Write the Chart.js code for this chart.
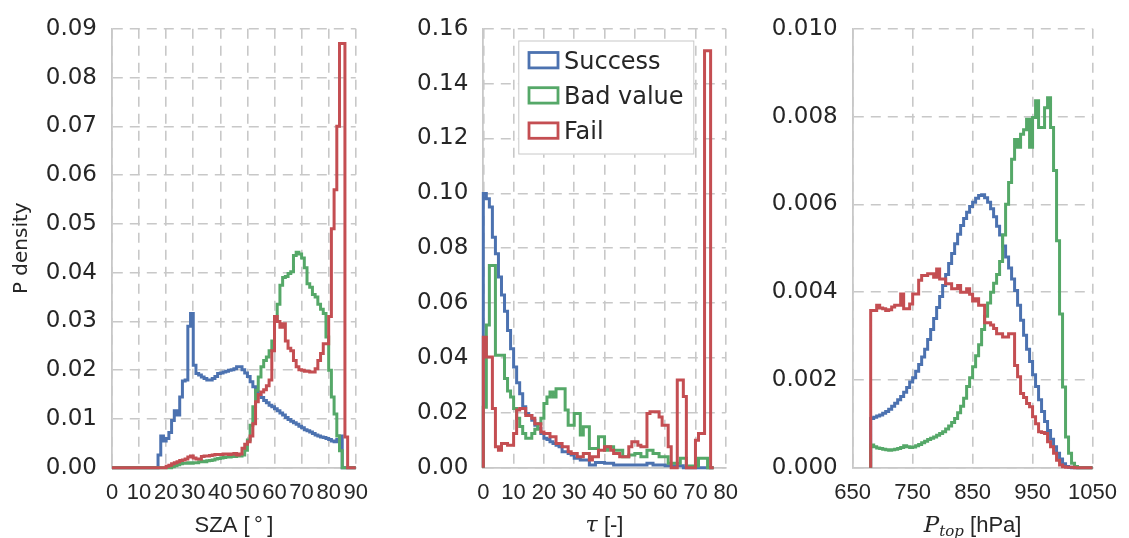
<!DOCTYPE html>
<html>
<head>
<meta charset="utf-8">
<script src="https://cdn.jsdelivr.net/npm/chart.js@4.4.0/dist/chart.umd.min.js"></script>
<style>
  html, body { margin: 0; padding: 0; background: #fff; }
  #wrap { position: relative; width: 1129px; height: 538px; }
  canvas { position: absolute; top: 0; }
</style>
</head>
<body>
<div id="wrap">
  <canvas id="sza_chart" width="380" height="538" style="left:0px"></canvas>
  <canvas id="tau_chart" width="370" height="538" style="left:380px"></canvas>
  <canvas id="ptop_chart" width="379" height="538" style="left:750px"></canvas>
</div>
<script>
const serieNomes = ["Success", "Bad value", "Fail"];
const serieCores = ["#4c72b0", "#55a868", "#c44e52"];

// SZA: bins de 1 grau a partir de 0
const szaInicio = 0;
const szaLargura = 1;
const szaTicks = [0, 90, 10];
const szaSuccess = [
  0, 0, 0, 0, 0, 0, 0, 0, 0, 0,
  0, 0, 0, 0, 0, 0, 0, 0.0026, 0.0065, 0.0055,
  0.006, 0.0072, 0.0097, 0.0117, 0.0108, 0.0145, 0.0178, 0.018, 0.029, 0.0316,
  0.021, 0.0193, 0.019, 0.0186, 0.0183, 0.018, 0.018, 0.0183, 0.0187, 0.0193,
  0.0194, 0.0196, 0.0198, 0.02, 0.0201, 0.0203, 0.0207, 0.0207, 0.0201, 0.0194,
  0.0187, 0.0176, 0.0166, 0.0155, 0.0149, 0.0144, 0.0138, 0.0133, 0.0128, 0.0125,
  0.0121, 0.0117, 0.0112, 0.0108, 0.0103, 0.0099, 0.0095, 0.0092, 0.0089, 0.0085,
  0.0082, 0.0078, 0.0076, 0.0073, 0.007, 0.0067, 0.0065, 0.0063, 0.0062, 0.006,
  0.0058, 0.0055, 0.0053, 0.0058, 0.0065, 0, 0, 0, 0, 0
];
const szaBad = [
  0, 0, 0, 0, 0, 0, 0, 0, 0, 0,
  0, 0, 0, 0, 0, 0, 0, 0, 0, 0,
  0, 0, 0.0002, 0.0004, 0.0006, 0.0008, 0.0009, 0.0009, 0.001, 0.0009,
  0.001, 0.001, 0.0012, 0.0013, 0.0012, 0.0014, 0.0015, 0.0016, 0.0018, 0.0019,
  0.002, 0.0021, 0.0022, 0.0022, 0.0023, 0.0023, 0.0024, 0.0024, 0.0026, 0.0036,
  0.0057, 0.0087, 0.0125, 0.0159, 0.0186, 0.0207, 0.022, 0.0227, 0.024, 0.026,
  0.0305, 0.0335, 0.0374, 0.039, 0.0392, 0.0398, 0.0402, 0.0435, 0.0442, 0.0438,
  0.043, 0.041, 0.0377, 0.037, 0.0355, 0.035, 0.0335, 0.0325, 0.0316, 0.0268,
  0.02, 0.0145, 0.011, 0.0065, 0.0035, 0, 0, 0, 0, 0
];
const szaFail = [
  0, 0, 0, 0, 0, 0, 0, 0, 0, 0,
  0, 0, 0, 0, 0, 0, 0, 0, 0, 0,
  0.0003, 0.0005, 0.0008, 0.001, 0.0012, 0.0015, 0.0016, 0.0018, 0.0022, 0.0024,
  0.002, 0.0018, 0.0018, 0.0023, 0.0024, 0.0024, 0.0025, 0.0026, 0.0027, 0.0027,
  0.0027, 0.0028, 0.0028, 0.0027, 0.0028, 0.0029, 0.0026, 0.0028, 0.004, 0.0048,
  0.0053, 0.0065, 0.009, 0.0135, 0.015, 0.0155, 0.016, 0.0168, 0.018, 0.024,
  0.031, 0.03, 0.0288, 0.0295, 0.026, 0.0245, 0.024, 0.022, 0.0207, 0.0201,
  0.02, 0.0198, 0.0198, 0.0196, 0.0196, 0.0203, 0.022, 0.0234, 0.0254, 0.0254,
  0.031, 0.049, 0.057, 0.07, 0.087, 0.087, 0.0063, 0, 0, 0
];

// tau: bins de 1 a partir de 0
const tauInicio = 0;
const tauLargura = 1;
const tauTicks = [0, 80, 10];
const tauSuccess = [
  0.1, 0.098, 0.095, 0.084, 0.078, 0.0695, 0.063, 0.057, 0.05, 0.0434,
  0.0367, 0.031, 0.027, 0.0222, 0.0198, 0.019, 0.0173, 0.0155, 0.0143, 0.0125,
  0.0107, 0.0103, 0.0095, 0.0088, 0.0082, 0.0076, 0.0058, 0.0058, 0.0052, 0.0046,
  0.0034, 0.0034, 0.0028, 0.0028, 0.0028, 0.001, 0.001, 0.0019, 0.0019, 0.0019,
  0.0016, 0.0016, 0.0016, 0.001, 0.001, 0.001, 0.001, 0.001, 0.001, 0.001,
  0.001, 0.001, 0.001, 0.001, 0.0016, 0.0016, 0.001, 0.001, 0.001, 0.001,
  0.0007, 0.0007, 0.0007, 0.0007, 0.0007, 0.0007, 0, 0, 0, 0,
  0, 0, 0, 0, 0, 0
];
const tauBad = [
  0.022, 0.052, 0.0737, 0.0737, 0.041, 0.041, 0.041, 0.0325, 0.028, 0.0258,
  0.0216, 0.018, 0.015, 0.0125, 0.0107, 0.0107, 0.0125, 0.014, 0.016, 0.018,
  0.0234, 0.0258, 0.0276, 0.0258, 0.0288, 0.0288, 0.0288, 0.021, 0.0155, 0.0155,
  0.0198, 0.0198, 0.0119, 0.0149, 0.0149, 0.007, 0.007, 0.007, 0.0113, 0.0113,
  0.0064, 0.0076, 0.0076, 0.0064, 0.0064, 0.0064, 0.004, 0.004, 0.0046, 0.0046,
  0.0052, 0.0052, 0.004, 0.004, 0.0064, 0.0064, 0.0052, 0.0052, 0.004, 0.004,
  0.004, 0.0016, 0.0016, 0.0016, 0.0016, 0.0034, 0.0034, 0.0006, 0.0006, 0.0006,
  0.0006, 0.0034, 0.0034, 0.0034, 0, 0
];
const tauFail = [
  0.0476, 0.0404, 0.0404, 0.0216, 0.0076, 0.0064, 0.0088, 0.0088, 0.0082, 0.0082,
  0.0125, 0.021, 0.0216, 0.0216, 0.019, 0.019, 0.018, 0.016, 0.016, 0.013,
  0.0125, 0.0125, 0.0113, 0.0113, 0.0088, 0.0088, 0.0076, 0.0076, 0.0058, 0.0052,
  0.0052, 0.004, 0.004, 0.0052, 0.0052, 0.0028, 0.004, 0.004, 0.0064, 0.0064,
  0.0076, 0.0076, 0.0064, 0.0052, 0.0052, 0.004, 0.004, 0.004, 0.0076, 0.0095,
  0.0095, 0.0082, 0.0076, 0.0076, 0.0198, 0.0204, 0.0204, 0.0204, 0.0185, 0.0155,
  0.0155, 0.0076, 0, 0, 0.032, 0.032, 0.026, 0, 0, 0,
  0.01, 0.0125, 0.0125, 0.152, 0.152, 0
];

// P_top: bins de 5 hPa a partir de 680
const ptopInicio = 680;
const ptopLargura = 5;
const ptopTicks = [650, 1050, 100];
const ptopSuccess = [
  0.00112, 0.00115, 0.00118, 0.0012, 0.00124, 0.00128, 0.00133, 0.0014, 0.00147, 0.00155,
  0.00162, 0.00172, 0.00183, 0.00195, 0.00205, 0.0022, 0.00235, 0.00252, 0.0027, 0.00292,
  0.00315, 0.0034, 0.00365, 0.0039, 0.00415, 0.0044, 0.00465, 0.00488, 0.0051, 0.00532,
  0.00552, 0.00568, 0.00582, 0.00595, 0.00605, 0.00614, 0.0062, 0.00622, 0.00615, 0.00605,
  0.0059, 0.00572, 0.0055, 0.0053, 0.00505, 0.0048, 0.00455, 0.0043, 0.00404, 0.0037,
  0.00336, 0.00302, 0.0027, 0.00242, 0.00212, 0.00185, 0.00155, 0.00128, 0.00105, 0.00085,
  0.00065, 0.00048, 0.00033, 0.0002, 0.00009, 0.00003, 0.00001, 0, 0, 0,
  0, 0, 0, 0
];
const ptopBad = [
  0.00052, 0.00048, 0.00045, 0.00044, 0.00042, 0.00041, 0.0004, 0.00041, 0.00042, 0.00044,
  0.00046, 0.0005, 0.00048, 0.00046, 0.00047, 0.0005, 0.00053, 0.00057, 0.0006, 0.00064,
  0.00067, 0.0007, 0.00074, 0.00078, 0.00082, 0.00088, 0.00095, 0.00103, 0.00112, 0.00125,
  0.0014, 0.00158, 0.00185, 0.00205, 0.0023, 0.00255, 0.0028, 0.00315, 0.00345, 0.00375,
  0.004, 0.0042, 0.0044, 0.0047, 0.0053, 0.006, 0.0065, 0.00703, 0.00748, 0.0073,
  0.0076, 0.0077, 0.00794, 0.0073, 0.00798, 0.00836, 0.00775, 0.00775, 0.0082, 0.00843,
  0.00775, 0.00677, 0.00517, 0.0035, 0.00184, 0.0007, 0.00033, 0.0001, 0.00003, 0,
  0, 0, 0, 0
];
const ptopFail = [
  0.00358, 0.00358, 0.0037, 0.00364, 0.00362, 0.00358, 0.0036, 0.00366, 0.0037, 0.0037,
  0.00396, 0.00362, 0.00362, 0.00373, 0.00396, 0.00396, 0.00427, 0.00438, 0.00438, 0.00442,
  0.00442, 0.00434, 0.00453, 0.0043, 0.0043, 0.00419, 0.00419, 0.00408, 0.00408, 0.00415,
  0.004, 0.004, 0.00408, 0.00395, 0.0038, 0.00385, 0.0037, 0.0037, 0.0033, 0.0033,
  0.00325, 0.00317, 0.00305, 0.00305, 0.00298, 0.00298, 0.00305, 0.00305, 0.00233, 0.00207,
  0.00169, 0.0016, 0.00146, 0.00139, 0.00116, 0.001, 0.00082, 0.0008, 0.00078, 0.00059,
  0.00048, 0.00033, 0.00017, 0.00006, 0.00002, 0.00001, 0.00001, 0.00001, 0, 0,
  0, 0, 0, 0
];

const corTexto = "#262626";
const corGrade = "#c8c8c8";
const fonteSans = '"Liberation Sans", Arial, sans-serif';
const fonteDejavu = '"DejaVu Sans", sans-serif';

// contorno de histograma (histtype step)
function degraus(inicio, largura, valores) {
  let pontos = [{ x: inicio, y: 0 }];
  for (let i = 0; i < valores.length; i++) {
    let x0 = inicio + i * largura;
    pontos.push({ x: x0, y: valores[i] });
    pontos.push({ x: x0 + largura, y: valores[i] });
  }
  pontos.push({ x: inicio + valores.length * largura, y: 0 });
  return pontos;
}

function criarTitulo(partes) {
  return {
    id: "tituloX",
    afterDraw(chart) {
      const ctx = chart.ctx;
      const area = chart.chartArea;
      let larguras = [];
      let total = 0;
      for (const p of partes) {
        ctx.font = p.font;
        let w = ctx.measureText(p.texto).width;
        larguras.push(w);
        total += w;
      }
      let x = (area.left + area.right) / 2 - total / 2;
      ctx.save();
      ctx.fillStyle = corTexto;
      ctx.textBaseline = "alphabetic";
      ctx.textAlign = "left";
      partes.forEach((p, i) => {
        ctx.font = p.font;
        ctx.fillText(p.texto, x, 532 + (p.desce || 0));
        x += larguras[i];
      });
      ctx.restore();
    },
  };
}

const legendaCaixa = {
  id: "legendaCaixa",
  afterDraw(chart) {
    const ctx = chart.ctx;
    const area = chart.chartArea;
    const x0 = area.left + 35;
    const y0 = area.top + 11.7;
    ctx.save();
    ctx.fillStyle = "#ffffff";
    ctx.fillRect(x0, y0, 175.7, 114);
    ctx.strokeStyle = corGrade;
    ctx.lineWidth = 1;
    ctx.strokeRect(x0 + 0.5, y0 + 0.5, 175, 113);
    chart.data.datasets.forEach((ds, i) => {
      const cy = y0 + 19.6 + i * 35.2;
      ctx.strokeStyle = ds.borderColor;
      ctx.lineWidth = 2.8;
      ctx.strokeRect(x0 + 10.7, cy - 7.6, 29, 15.4);
      ctx.fillStyle = corTexto;
      ctx.font = "24px " + fonteDejavu;
      ctx.textBaseline = "alphabetic";
      ctx.fillText(ds.label, x0 + 45.7, cy + 8.7);
    });
    ctx.restore();
  },
};

function plotarPainel(id, cfg) {
  var ctx = document.getElementById(id).getContext("2d");
  let datasets = [];
  for (let k = 0; k < 3; k++) {
    datasets.push({
      label: serieNomes[k],
      data: degraus(cfg.inicio, cfg.largura, cfg.series[k]),
      borderColor: serieCores[k],
      backgroundColor: serieCores[k],
      borderWidth: 3,
      pointRadius: 0,
      fill: false,
      tension: 0,
      clip: false,
      order: 2 - k,
    });
  }
  let plugins = [criarTitulo(cfg.titulo)];
  if (cfg.legenda) plugins.push(legendaCaixa);

  return new Chart(ctx, {
    type: "line",
    data: { datasets: datasets },
    options: {
      responsive: false,
      animation: false,
      devicePixelRatio: 1,
      layout: { padding: { top: 27.6, right: cfg.direita, left: 0, bottom: 0 } },
      plugins: { legend: { display: false }, tooltip: { enabled: false } },
      scales: {
        x: {
          type: "linear",
          min: cfg.xTicks[0],
          max: cfg.xTicks[1],
          ticks: {
            stepSize: cfg.xTicks[2],
            autoSkip: false,
            maxRotation: 0,
            padding: 12,
            color: corTexto,
            font: { family: fonteSans, size: 22 },
            callback: (v) => String(v),
          },
          grid: { color: corGrade, lineWidth: 1.6, drawTicks: false },
          border: { color: corGrade, width: 1.8, dash: [10, 7] },
          afterFit: (s) => { s.height = 70.3; },
        },
        y: {
          min: 0,
          max: cfg.yTicks[0],
          ticks: {
            stepSize: cfg.yTicks[1],
            autoSkip: false,
            padding: 15,
            color: corTexto,
            font: { family: fonteDejavu, size: 23 },
            callback: (v) => v.toFixed(cfg.yTicks[2]),
          },
          title: {
            display: !!cfg.yTitulo,
            text: cfg.yTitulo || "",
            color: corTexto,
            font: { family: fonteDejavu, size: 20 },
            padding: { top: 10, bottom: 0 },
          },
          grid: { color: corGrade, lineWidth: 1.6, drawTicks: false },
          border: { color: corGrade, width: 1.8, dash: [10, 7] },
          afterFit: (s) => { s.width = cfg.esquerda; },
        },
      },
    },
    plugins: plugins,
  });
}

plotarPainel("sza_chart", {
  inicio: szaInicio,
  largura: szaLargura,
  series: [szaSuccess, szaBad, szaFail],
  xTicks: szaTicks,
  yTicks: [0.09, 0.01, 2],
  yTitulo: "P density",
  esquerda: 112,
  direita: 20,
  titulo: [{ texto: "SZA [\u2009\u00b0\u2009]", font: "22px " + fonteSans }],
});

plotarPainel("tau_chart", {
  inicio: tauInicio,
  largura: tauLargura,
  series: [tauSuccess, tauBad, tauFail],
  xTicks: tauTicks,
  yTicks: [0.16, 0.02, 2],
  esquerda: 103.3,
  direita: 20,
  legenda: true,
  titulo: [
    { texto: "\u03c4", font: 'italic 22px "DejaVu Serif", serif' },
    { texto: " [-]", font: "22px " + fonteSans },
  ],
});

plotarPainel("ptop_chart", {
  inicio: ptopInicio,
  largura: ptopLargura,
  series: [ptopSuccess, ptopBad, ptopFail],
  xTicks: ptopTicks,
  yTicks: [0.01, 0.002, 3],
  esquerda: 102.7,
  direita: 28.3,
  titulo: [
    { texto: "P", font: 'italic 23px "DejaVu Serif", serif' },
    { texto: "top", font: 'italic 15px "DejaVu Serif", serif', desce: 4 },
    { texto: " [hPa]", font: "22px " + fonteSans },
  ],
});
</script>
</body>
</html>
